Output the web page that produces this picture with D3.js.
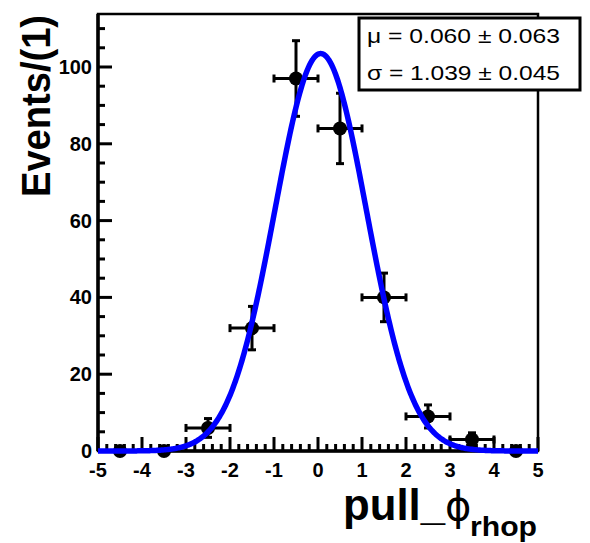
<!DOCTYPE html>
<html><head><meta charset="utf-8">
<script src="https://cdn.jsdelivr.net/npm/d3@7"></script>
<style>body{margin:0;background:#fff}svg{display:block}text{font-family:"Liberation Sans",Arial,Helvetica,sans-serif}</style>
</head><body>
<svg id="c" width="590" height="543"></svg>
<script>
// ---- data ----
const binCenters = [-4.5,-3.5,-2.5,-1.5,-0.5,0.5,1.5,2.5,3.5,4.5];
const counts     = [0,0,6,32,97,84,40,9,3,0];
const fitMu = 0.060, fitMuErr = 0.063;
const fitSigma = 1.039, fitSigmaErr = 0.045;
const fitAmp = 103.5;
const xTicks = [-5,-4,-3,-2,-1,0,1,2,3,4,5];
const yTicks = [0,20,40,60,80,100];
const legendLines = ["\u03bc =  0.060 \u00b1 0.063", "\u03c3 = 1.039 \u00b1 0.045"];

const svg = d3.select("#c");
const L=98, R=538, T=14, B=451;
const x = d3.scaleLinear().domain([-5,5]).range([L,R]);
const y = d3.scaleLinear().domain([0,113.8]).range([B,T]);

// frame
svg.append("rect").attr("x",L).attr("y",T).attr("width",R-L).attr("height",B-T)
  .attr("fill","none").attr("stroke","#000").attr("stroke-width",2.5);

// x axis ticks (inward)
const xAll = d3.range(0,51).map(i=>-5+i*0.2);
const isMajor = v => Math.abs(v-Math.round(v))<1e-6;
svg.append("g").selectAll("line").data(xAll).join("line")
  .attr("x1",d=>x(d)).attr("x2",d=>x(d)).attr("y1",B)
  .attr("y2",d=>B-(isMajor(d)?14:7))
  .attr("stroke","#000").attr("stroke-width",3);
svg.append("g").selectAll("text").data(xTicks).join("text")
  .attr("x",d=>x(d)).attr("y",477).attr("text-anchor","middle")
  .attr("font-size",20).attr("font-weight","bold").text(d=>String(d));
svg.append("line").attr("x1",L).attr("x2",R).attr("y1",B).attr("y2",B).attr("stroke","#000").attr("stroke-width",3.5);

// y axis ticks (inward)
const yAll = d3.range(0,23).map(i=>i*5);
svg.append("g").selectAll("line").data(yAll).join("line")
  .attr("x1",L).attr("x2",d=>L+(d%20===0?14:7))
  .attr("y1",d=>y(d)).attr("y2",d=>y(d))
  .attr("stroke","#000").attr("stroke-width",3);
svg.append("g").selectAll("text").data(yTicks).join("text")
  .attr("x",92).attr("y",d=>y(d)+7).attr("text-anchor","end")
  .attr("font-size",20).attr("font-weight","bold").text(d=>String(d));
svg.append("line").attr("x1",L).attr("x2",L).attr("y1",T).attr("y2",B).attr("stroke","#000").attr("stroke-width",3.5);

// data points with error bars
const pts = binCenters.map((c,i)=>({c, n:counts[i], e:Math.sqrt(counts[i])}));
const g = svg.append("g");
const cap = 4;
pts.filter(p=>p.n>0).forEach(p=>{
  const cx=x(p.c), cy=y(p.n);
  const xl=x(p.c-0.5), xr=x(p.c+0.5), yt=y(p.n+p.e), yb=y(p.n-p.e);
  const lines=[[xl,cy,xr,cy],[cx,yt,cx,yb],[xl,cy-cap,xl,cy+cap],[xr,cy-cap,xr,cy+cap],
               [cx-cap,yt,cx+cap,yt],[cx-cap,yb,cx+cap,yb]];
  lines.forEach(l=>g.append("line").attr("x1",l[0]).attr("y1",l[1]).attr("x2",l[2]).attr("y2",l[3])
    .attr("stroke","#000").attr("stroke-width",3));
});
g.selectAll("circle").data(pts).join("circle")
  .attr("cx",d=>x(d.c)).attr("cy",d=>y(d.n)).attr("r",7).attr("fill","#000");

// fit curve
const fx = d3.range(0,501).map(i=>-5+i*0.02);
const gauss = v => fitAmp*Math.exp(-0.5*Math.pow((v-fitMu)/fitSigma,2));
svg.append("path").datum(fx)
  .attr("d",d3.line().x(d=>x(d)).y(d=>y(gauss(d))))
  .attr("fill","none").attr("stroke","#0000ff").attr("stroke-width",5.5).attr("stroke-linejoin","round");

// stats box
svg.append("rect").attr("x",359).attr("y",18).attr("width",221).attr("height",72)
  .attr("fill","#fff").attr("stroke","#000").attr("stroke-width",3);
legendLines.forEach((t,i)=>{
  svg.append("text").attr("x",367).attr("y",43+i*37).attr("font-size",21).attr("font-weight",500)
    .attr("textLength",193).attr("lengthAdjust","spacingAndGlyphs").text(t);
});

// axis titles
svg.append("text").attr("transform","translate(50,15) rotate(-90)")
  .attr("text-anchor","end").attr("font-size",40).attr("font-weight","bold")
  .attr("textLength",182).attr("lengthAdjust","spacingAndGlyphs").text("Events/(1)");
const xt = svg.append("text").attr("x",343).attr("y",520).attr("font-size",44).attr("font-weight","bold");
xt.append("tspan").attr("textLength",102).attr("lengthAdjust","spacingAndGlyphs").text("pull_");
xt.append("tspan").attr("font-family","DejaVu Sans").attr("font-weight","normal").attr("font-size",40).text("\u03d5");
svg.append("text").attr("x",470).attr("y",536).attr("font-size",28).attr("font-weight","bold")
  .attr("textLength",67).attr("lengthAdjust","spacingAndGlyphs").text("rhop");
</script>
</body></html>
